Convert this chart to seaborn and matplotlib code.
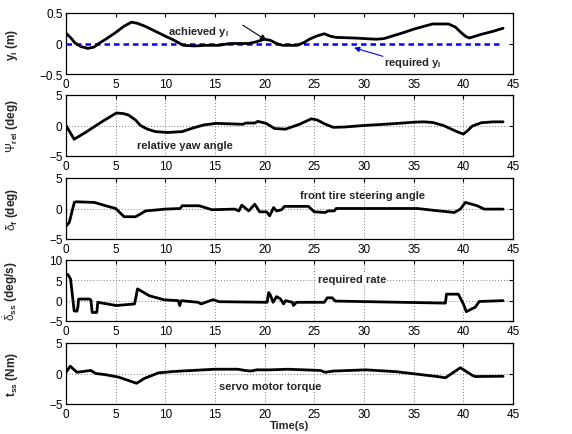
import numpy as np
import pandas as pd
import matplotlib
matplotlib.use("Agg")
import matplotlib.pyplot as plt
import seaborn as sns

# ---------------- data ----------------
t_y = [0, 0.5, 0.9, 1.5, 2.2, 2.8, 3.3, 4.0, 5.0, 5.8, 6.6, 7.2, 8.0, 9.0, 10.0, 10.8,
       11.8, 13.0, 14.0, 15.4, 16.5, 18.4, 19.2, 20.0, 20.6, 21.2, 21.8, 23.3, 24.0,
       24.5, 25.2, 26.0, 26.6, 27.2, 29.0, 31.2, 32.0, 33.0, 34.0, 35.1, 36.0, 36.9,
       38.5, 39.2, 39.7, 40.2, 40.6, 41.2, 41.8, 43.0, 44.0]
y_achieved = [0.17, 0.09, 0.01, -0.05, -0.08, -0.06, 0.0, 0.07, 0.18, 0.28, 0.35, 0.33,
              0.28, 0.2, 0.12, 0.06, -0.03, -0.04, -0.03, -0.03, 0.0, 0.0, 0.03, 0.07,
              0.05, 0.0, -0.03, -0.03, 0.02, 0.07, 0.12, 0.16, 0.12, 0.1, 0.09, 0.07,
              0.08, 0.13, 0.18, 0.24, 0.28, 0.32, 0.32, 0.27, 0.19, 0.12, 0.09, 0.12,
              0.15, 0.2, 0.25]
t_req = [0, 44]
y_required = [0, 0]

t_psi = [0, 0.82, 2.0, 3.5, 5.07, 5.8, 6.3, 7.0, 7.5, 8.2, 9.0, 10.2, 11.7, 12.8, 13.9,
         15.1, 17.8, 18.1, 19.0, 19.3, 19.8, 20.2, 21.0, 22.1, 23.5, 24.7, 25.3, 26.0,
         26.9, 28.0, 30.0, 33.0, 35.1, 36.0, 36.9, 38.0, 38.8, 39.5, 40.0, 40.4, 40.9,
         41.8, 43.0, 44.0]
psi_rel = [0, -2.25, -1.1, 0.5, 2.05, 1.95, 1.7, 0.9, 0.0, -0.6, -1.0, -1.15, -1.0,
           -0.4, 0.1, 0.35, 0.2, 0.4, 0.4, 0.67, 0.5, 0.3, -0.5, -0.6, 0.2, 1.1, 0.9,
           0.3, -0.3, -0.25, 0.0, 0.3, 0.55, 0.6, 0.5, 0.0, -0.6, -1.1, -1.4, -0.9,
           -0.1, 0.45, 0.6, 0.6]

t_df = [0, 0.33, 0.6, 0.84, 1.0, 2.84, 4.0, 5.0, 5.85, 7.0, 7.5, 8.0, 10.0, 11.5, 11.7,
        13.4, 14.7, 17.0, 17.4, 17.7, 18.4, 19.0, 19.5, 20.2, 20.5, 20.9, 21.2, 21.7,
        22.0, 24.4, 25.0, 26.1, 26.4, 27.0, 27.2, 35.4, 37.0, 39.1, 39.7, 40.2, 41.4,
        42.1, 44.0]
delta_f = [-2.9, -2.3, -0.5, 1.0, 1.1, 1.0, 0.45, 0.0, -1.35, -1.35, -0.9, -0.4, -0.1,
           0.0, 0.45, 0.45, -0.2, -0.1, -0.4, 0.55, -0.4, 0.7, -0.55, -0.55, -1.2, 0.15,
           -0.4, -0.2, 0.35, 0.35, -0.55, -0.65, -0.4, -0.4, 0.0, 0.0, -0.3, -0.65,
           -0.1, 1.0, 0.45, -0.1, -0.1]

t_rate = [0, 0.2, 0.46, 0.82, 1.1, 1.2, 1.27, 2.34, 2.5, 2.64, 3.1, 3.2, 5.07, 6.9, 7.05,
          7.2, 8.4, 9.9, 11.3, 11.45, 11.6, 13.3, 13.6, 14.8, 15.4, 20.25, 20.4, 20.55,
          20.85, 21.2, 21.6, 21.9, 22.1, 22.8, 22.9, 23.2, 26.0, 26.3, 26.8, 27.1, 38.2,
          38.3, 39.5, 40.0, 40.3, 41.2, 41.6, 44.0]
rate_ss = [6.5, 6.4, 5.3, -2.5, -2.6, -1.5, 0.4, 0.4, 0.2, -2.9, -2.9, -0.4, -1.2, -0.8,
           1.0, 2.9, 1.2, 0.2, 0.0, -1.2, 0.0, -0.4, -0.8, 0.25, -0.25, -0.4, 2.0, 1.5,
           -0.4, 1.0, 0.4, -0.8, 0.0, -0.4, -1.2, -0.4, -0.4, 0.7, 0.7, -0.1, -0.6, 1.6,
           1.6, -0.8, -2.7, -1.6, -0.2, 0.0]

t_tq = [0, 0.43, 1.1, 2.5, 3.0, 4.0, 5.3, 7.1, 7.9, 9.3, 10.6, 11.6, 15.0, 17.3, 18.0,
        18.6, 19.2, 20.6, 22.3, 25.6, 26.1, 26.9, 30.2, 33.2, 37.4, 38.2, 39.7, 40.9,
        41.2, 44.0]
torque_ss = [0.2, 1.2, 0.2, 0.5, 0.0, -0.2, -0.6, -1.6, -0.8, 0.1, 0.3, 0.4, 0.7, 0.7,
             0.5, 0.4, 0.6, 0.6, 0.7, 0.5, 0.2, 0.4, 0.6, 0.3, -0.5, -0.7, 0.95, -0.3,
             -0.5, -0.45]

x_ticks = [0, 5, 10, 15, 20, 25, 30, 35, 40, 45]

# ---------------- style ----------------
sns.set_style("white")
plt.rcParams['font.family'] = ['Liberation Sans', 'DejaVu Sans']
plt.rcParams['mathtext.fontset'] = 'custom'
plt.rcParams['mathtext.rm'] = 'Liberation Sans'
plt.rcParams['mathtext.it'] = 'Liberation Sans:italic'
plt.rcParams['mathtext.bf'] = 'Liberation Sans:bold'

fig = plt.figure(figsize=(5.72, 4.35), dpi=100)
W, H = 572, 435
left_px, right_px = 66, 513
tops = [14, 96, 179, 261, 344]
ph = 61
axes = []
for tp in tops:
    axes.append(fig.add_axes([left_px / W, 1 - (tp + ph) / H,
                              (right_px - left_px) / W, ph / H]))

panels = [
    (t_y, y_achieved, [-0.5, 0.5], [-0.5, 0, 0.5], ['\u22120.5', '0', '0.5'],
     r'y$_\mathbf{l}$ (m)'),
    (t_psi, psi_rel, [-5, 5], [-5, 0, 5], ['\u22125', '0', '5'],
     r'$\mathrm{\Psi}_\mathbf{rel}$ (deg)'),
    (t_df, delta_f, [-5, 5], [-5, 0, 5], ['\u22125', '0', '5'],
     r'$\mathrm{\delta}_\mathbf{f}$ (deg)'),
    (t_rate, rate_ss, [-5, 10], [-5, 0, 5, 10], ['\u22125', '0', '5', '10'],
     r'$\dot{\mathrm{\delta}}_\mathbf{ss}$ (deg/s)'),
    (t_tq, torque_ss, [-5, 5], [-5, 0, 5], ['\u22125', '0', '5'],
     r't$_\mathbf{ss}$ (Nm)'),
]

for i, (ax, (tt, vv, ylim, yt, ytl, ylab)) in enumerate(zip(axes, panels)):
    df = pd.DataFrame({'t': tt, 'v': vv})
    if i == 0:
        dfr = pd.DataFrame({'t': t_req, 'v': y_required})
        sns.lineplot(data=dfr, x='t', y='v', ax=ax, color='#0000ff', lw=1.8,
                     dashes=False, linestyle=(0, (2.2, 1.6)), zorder=3)
    sns.lineplot(data=df, x='t', y='v', ax=ax, color='black', lw=2.0, zorder=4,
                 sort=False)
    ax.set_xlim(0, 45)
    ax.set_ylim(*ylim)
    ax.set_xticks(x_ticks)
    ax.set_xticklabels([str(x) for x in x_ticks])
    ax.set_yticks(yt)
    ax.set_yticklabels(ytl)
    ax.tick_params(direction='in', top=True, right=True, length=3, width=0.8,
                   labelsize=8.5, pad=2.5, colors='black')
    ax.tick_params(axis='x', pad=3)
    for s in ax.spines.values():
        s.set_visible(True)
        s.set_color('black')
        s.set_linewidth(0.9)
    if i > 0:
        ax.grid(True, linestyle=(0, (1, 2.5)), color='#555555', linewidth=0.6)
        ax.set_axisbelow(True)
    else:
        ax.grid(False)
    ax.set_xlabel('')
    ax.set_ylabel(ylab, fontsize=8.5, fontweight='bold')
    ax.yaxis.set_label_coords(-0.103, 0.5)

axes[-1].set_xlabel('Time(s)', fontsize=8, fontweight='bold', labelpad=0)

tk = dict(fontsize=8, fontweight='bold', ha='center', va='center')
axes[0].annotate('', xy=(20.2, 0.05), xytext=(17.8, 0.3),
                 arrowprops=dict(arrowstyle='-|>', color='black', lw=0.8,
                                 mutation_scale=9, shrinkA=0, shrinkB=0), zorder=6)
axes[0].text(13.3, 0.21, r'achieved y$_\mathbf{l}$', **tk)
axes[0].annotate('', xy=(29.0, -0.07), xytext=(31.9, -0.21),
                 arrowprops=dict(arrowstyle='-|>', color='#0000ff', lw=0.8,
                                 mutation_scale=8, shrinkA=0, shrinkB=0), zorder=6)
axes[0].text(34.9, -0.3, r'required y$_\mathbf{l}$', **tk)
axes[1].text(12.0, -3.2, 'relative yaw angle', **tk)
axes[2].text(29.8, 2.2, 'front tire steering angle', **tk)
axes[3].text(28.8, 5.3, 'required rate',
             bbox=dict(facecolor='white', edgecolor='none', pad=0.5), zorder=5, **tk)
axes[4].text(20.6, -2.1, 'servo motor torque', **tk)

fig.savefig('out.png', dpi=100)
